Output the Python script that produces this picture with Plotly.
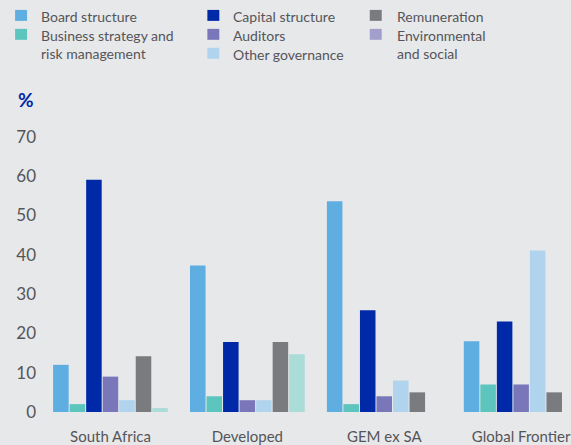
import plotly.graph_objects as go

categories = ["South Africa", "Developed", "GEM ex SA", "Global Frontier"]
series_names = ["Board structure", "Business strategy and<br>risk management", "Capital structure",
                "Auditors", "Other governance", "Remuneration", "Environmental<br>and social"]
board = [12, 37.3, 53.6, 18]
business = [2, 4, 2, 7]
capital = [59.1, 17.8, 25.9, 23]
auditors = [9, 3, 4, 7]
other_gov = [3, 3, 8, 41.1]
remuneration = [14.2, 17.8, 5, 5]
env_social = [1, 14.7, 0, 0]
y_ticks = [0, 10, 20, 30, 40, 50, 60, 70]

values = [board, business, capital, auditors, other_gov, remuneration, env_social]
bar_colors = ["#5eaee1", "#5cc5bd", "#0029a8", "#7977b9", "#b0d3ee", "#7a7b7f", "#aadcd8"]
legend_colors = ["#5eaee1", "#5cc5bd", "#0029a8", "#7977b9", "#b0d3ee", "#7a7b7f", "#a39fcd"]
legend_pos = [(0, 0), (0, 1), (1, 0), (1, 1), (1, 2), (2, 0), (2, 1)]  # (column, row)

BG = "#e7e8ea"
TXT = "#555559"
FONT = "Lato"

W, H = 571, 445
ML, MR, MT, MB = 42, 0, 129, 32
PW, PH = W - ML - MR, H - MT - MB


def fx(p):
    return (p - ML) / PW


def fy(p):
    return (H - MB - p) / PH


fig = go.Figure()
for name, vals, col in zip(series_names, values, bar_colors):
    fig.add_trace(go.Bar(x=categories, y=vals, name=name, marker=dict(color=col, line=dict(width=0)),
                         showlegend=False))

swatch_x = [15, 208, 371]
text_x = [39, 232, 396]
row_y = [15, 34, 53]
shapes = []
annotations = []
for name, col, (c, r) in zip(series_names, legend_colors, legend_pos):
    cy = row_y[r]
    shapes.append(dict(type="rect", xref="paper", yref="paper",
                       x0=fx(swatch_x[c]), x1=fx(swatch_x[c] + 12),
                       y0=fy(cy + 5.5), y1=fy(cy - 5.5),
                       fillcolor=col, line=dict(width=0)))
    annotations.append(dict(xref="paper", yref="paper", x=fx(text_x[c]), y=fy(cy - 9.5),
                            xanchor="left", yanchor="top", align="left", showarrow=False,
                            text=name, font=dict(family=FONT, size=14, color=TXT)))

annotations.append(dict(xref="paper", yref="paper", x=fx(16), y=fy(99), xanchor="left", yanchor="middle",
                        showarrow=False, text="<b>%</b>", font=dict(family=FONT, size=19, color="#0029a8")))

fig.update_layout(
    width=W, height=H,
    margin=dict(l=ML, r=MR, t=MT, b=MB, pad=0),
    paper_bgcolor=BG, plot_bgcolor=BG,
    barmode="group", bargap=0.155, bargroupgap=0.06,
    shapes=shapes, annotations=annotations,
    font=dict(family=FONT, color=TXT),
    xaxis=dict(range=[-0.5, (W - 111) / ((523 - 111) / 3)], showgrid=False, zeroline=False,
               showline=False, ticks="", tickfont=dict(family=FONT, size=15, color=TXT),
               ticklabelstandoff=14),
    yaxis=dict(range=[0, 72], tickvals=y_ticks, showgrid=False, zeroline=False, showline=False, ticks="",
               tickfont=dict(family=FONT, size=17, color=TXT), ticklabelstandoff=5),
)
fig.write_html("out.html")
